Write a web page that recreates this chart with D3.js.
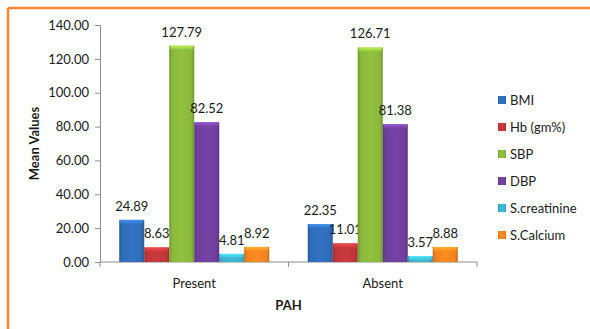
<!DOCTYPE html>
<html>
<head>
<meta charset="utf-8">
<script src="https://cdn.jsdelivr.net/npm/d3@7"></script>
<style>
  html, body { margin: 0; padding: 0; background: #fff; }
  svg { display: block; }
  text { font-family: Lato, "Open Sans", sans-serif; fill: #1a1a1a; }
</style>
</head>
<body>
<svg id="chart" width="590" height="329"></svg>
<script>
// Chart data
const groups = ["Present", "Absent"];
const seriesNames = ["BMI", "Hb (gm%)", "SBP", "DBP", "S.creatinine", "S.Calcium"];
const bmi = [24.89, 22.35];
const hb = [8.63, 11.01];
const sbp = [127.79, 126.71];
const dbp = [82.52, 81.38];
const creatinine = [4.81, 3.57];
const calcium = [8.92, 8.88];
const yTicks = [0, 20, 40, 60, 80, 100, 120, 140];
const seriesColors = ["#2f6db8", "#c0363a", "#8ab83c", "#6f3f9c", "#3bb0cc", "#f0841f"];

const seriesValues = [bmi, hb, sbp, dbp, creatinine, calcium];

const svg = d3.select("#chart");
const W = 590, H = 329;

// Outer frame (orange, open on right and bottom)
svg.append("line").attr("x1", 8).attr("y1", 8).attr("x2", W).attr("y2", 8)
  .attr("stroke", "#f7862a").attr("stroke-width", 2.5);
svg.append("line").attr("x1", 8).attr("y1", 8).attr("x2", 8).attr("y2", H)
  .attr("stroke", "#f7862a").attr("stroke-width", 2.5);

const plot = { left: 100, right: 477, top: 25, bottom: 262 };

const x0 = d3.scaleBand().domain(groups).range([plot.left, plot.right]).paddingInner(0).paddingOuter(0);
const x1 = d3.scaleBand().domain(seriesNames).range([0, x0.bandwidth()]).paddingOuter(0.77).paddingInner(0);
const y = d3.scaleLinear().domain([0, 140]).range([plot.bottom, plot.top]);

// Gradients giving each bar a bevelled look
const defs = svg.append("defs");
seriesColors.forEach((c, i) => {
  const base = d3.color(c);
  const g = defs.append("linearGradient").attr("id", "grad" + i)
    .attr("x1", "0%").attr("x2", "100%").attr("y1", "0%").attr("y2", "0%");
  g.append("stop").attr("offset", "0%").attr("stop-color", base.darker(0.6));
  g.append("stop").attr("offset", "12%").attr("stop-color", base);
  g.append("stop").attr("offset", "50%").attr("stop-color", base.brighter(0.15));
  g.append("stop").attr("offset", "88%").attr("stop-color", base);
  g.append("stop").attr("offset", "100%").attr("stop-color", base.darker(0.6));
  const t = defs.append("linearGradient").attr("id", "top" + i)
    .attr("x1", "0%").attr("x2", "0%").attr("y1", "0%").attr("y2", "100%");
  t.append("stop").attr("offset", "0%").attr("stop-color", base.brighter(0.9));
  t.append("stop").attr("offset", "100%").attr("stop-color", base.brighter(0.2));
});

// Y axis
const yAxis = d3.axisLeft(y).tickValues(yTicks).tickFormat(d3.format(".2f")).tickSize(5).tickPadding(6);
const ya = svg.append("g").attr("transform", `translate(${plot.left},0)`).call(yAxis);
ya.select(".domain").attr("stroke", "#8c8c8c");
ya.selectAll(".tick line").attr("stroke", "#8c8c8c");
ya.selectAll(".tick text").attr("font-size", 13).attr("font-family", "Lato, sans-serif").attr("fill", "#1a1a1a");

// X axis
const xa = svg.append("g").attr("transform", `translate(0,${plot.bottom})`);
xa.append("line").attr("x1", plot.left).attr("x2", plot.right).attr("y1", 0).attr("y2", 0).attr("stroke", "#8c8c8c");
const boundaries = [plot.left, ...groups.map(gn => x0(gn) + x0.bandwidth())];
xa.selectAll("line.tk").data(boundaries).join("line").attr("class", "tk")
  .attr("x1", d => d).attr("x2", d => d).attr("y1", 0).attr("y2", 5).attr("stroke", "#8c8c8c");
xa.selectAll("text.cat").data(groups).join("text").attr("class", "cat")
  .attr("x", d => x0(d) + x0.bandwidth() / 2).attr("y", 26)
  .attr("text-anchor", "middle").attr("font-size", 13).text(d => d);

// Bars
const gGroups = svg.append("g").selectAll("g").data(groups).join("g")
  .attr("transform", d => `translate(${x0(d)},0)`);
gGroups.each(function(gn, gi) {
  const g = d3.select(this);
  seriesNames.forEach((sn, si) => {
    const v = seriesValues[si][gi];
    const bx = x1(sn), bw = x1.bandwidth();
    const by = y(v), bh = y(0) - y(v);
    g.append("rect").attr("x", bx).attr("y", by).attr("width", bw).attr("height", bh)
      .attr("fill", `url(#grad${si})`);
    g.append("rect").attr("x", bx + 1).attr("y", by).attr("width", bw - 2).attr("height", Math.min(4, bh))
      .attr("fill", `url(#top${si})`).attr("opacity", 0.85);
    g.append("text").attr("x", bx + bw / 2).attr("y", by - 9)
      .attr("text-anchor", "middle").attr("font-size", 13).text(d3.format(".2f")(v));
  });
});

// Axis titles
svg.append("text").attr("transform", `translate(39,${(plot.top + plot.bottom) / 2}) rotate(-90)`)
  .attr("text-anchor", "middle").attr("font-size", 13).attr("font-weight", "bold").text("Mean Values");
svg.append("text").attr("x", (plot.left + plot.right) / 2).attr("y", 310)
  .attr("text-anchor", "middle").attr("font-size", 13).attr("font-weight", "bold").text("PAH");

// Legend
const legend = svg.append("g").attr("transform", "translate(498,100)");
const items = legend.selectAll("g").data(seriesNames).join("g")
  .attr("transform", (d, i) => `translate(0,${i * 27})`);
items.append("rect").attr("x", 0).attr("y", -4).attr("width", 8).attr("height", 8)
  .attr("fill", (d, i) => `url(#grad${i})`);
items.append("text").attr("x", 12).attr("y", 4.5).attr("font-size", 13).text(d => d);
</script>
</body>
</html>
